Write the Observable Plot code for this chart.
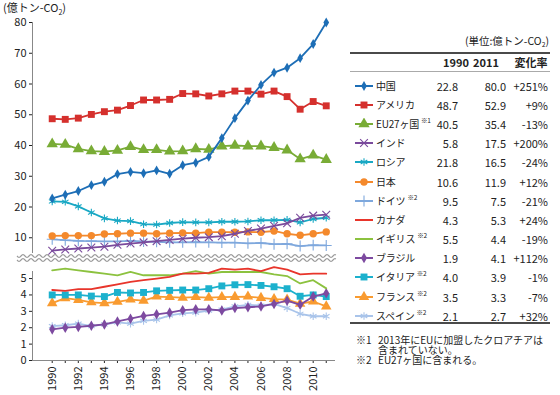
<!DOCTYPE html>
<html><head><meta charset="utf-8">
<script src="https://cdn.jsdelivr.net/npm/d3@7"></script>
<script src="https://cdn.jsdelivr.net/npm/@observablehq/plot@0.6"></script>
<style>
body{margin:0;background:#fff;}
#root{position:relative;width:560px;height:395px;overflow:hidden;font-family:"Noto Sans CJK JP","Noto Sans",sans-serif;color:#222;}
.abs{position:absolute;white-space:nowrap;line-height:16px;}
sub{font-size:0.65em;vertical-align:baseline;position:relative;top:0.35em;}
.note{font-size:6.5px;position:relative;top:-5px;margin-left:2px;}
.fnm{display:inline-block;width:22px;}
</style></head><body>
<div id="root"></div>
<script>
// ---------------- data ----------------
const years = [1990,1991,1992,1993,1994,1995,1996,1997,1998,1999,2000,2001,2002,2003,2004,2005,2006,2007,2008,2009,2010,2011];
const yearLabels = ["1990","","1992","","1994","","1996","","1998","","2000","","2002","","2004","","2006","","2008","","2010",""];
const topTicks = [10,20,30,40,50,60,70,80];
const bottomTicks = [0,1,2,3,4,5];

const china   = [22.8,24.0,25.2,27.1,28.2,30.7,31.4,31.0,31.9,30.8,33.6,34.4,36.3,42.4,48.9,54.6,59.7,63.7,65.3,68.4,73.0,80.0];
const usa     = [48.7,48.5,48.9,50.1,51.0,51.5,53.0,54.8,54.8,55.0,56.9,56.8,56.1,56.8,57.7,57.7,56.7,57.7,55.9,51.8,54.3,52.9];
const eu27    = [40.5,40.3,38.9,38.2,38.0,38.4,39.6,38.6,38.6,38.1,38.2,38.9,38.7,39.8,40.0,39.8,39.8,39.3,38.5,35.6,36.8,35.4];
const india   = [5.8,6.2,6.5,6.8,7.1,7.7,8.1,8.5,8.9,9.3,9.7,10.0,10.2,10.5,11.3,12.2,13.0,13.9,14.7,16.5,17.2,17.5];
const russia  = [21.8,21.7,20.2,18.2,16.3,15.6,15.4,14.4,14.3,14.8,15.1,15.0,15.0,15.2,15.2,15.3,15.7,15.7,15.8,15.0,16.1,16.5];
const japan   = [10.6,10.7,10.7,10.7,11.2,11.3,11.5,11.5,11.3,11.5,11.6,11.5,11.8,11.8,11.8,11.9,11.8,12.2,11.3,10.8,11.3,11.9];
const germany = [9.5,9.2,9.0,8.9,8.8,8.8,9.0,8.8,8.7,8.5,8.5,8.6,8.5,8.4,8.4,8.2,8.3,7.9,8.0,7.3,7.6,7.5];
const canada  = [4.3,4.25,4.35,4.35,4.5,4.65,4.8,4.9,5.0,5.1,5.3,5.3,5.35,5.6,5.55,5.6,5.45,5.7,5.55,5.25,5.3,5.3];
const uk      = [5.5,5.6,5.5,5.4,5.3,5.2,5.4,5.2,5.2,5.2,5.3,5.45,5.3,5.4,5.4,5.4,5.4,5.25,5.15,4.7,4.9,4.4];
const brazil  = [1.9,2.0,2.05,2.12,2.2,2.38,2.55,2.72,2.82,2.92,3.07,3.12,3.12,3.05,3.2,3.25,3.3,3.45,3.65,3.4,3.9,4.1];
const italy   = [4.0,4.0,4.0,3.93,3.9,4.15,4.12,4.15,4.25,4.28,4.3,4.3,4.38,4.55,4.62,4.63,4.58,4.5,4.38,3.92,4.0,3.9];
const france  = [3.5,3.8,3.7,3.55,3.5,3.58,3.72,3.65,3.9,3.87,3.83,3.87,3.83,3.87,3.88,3.9,3.82,3.75,3.72,3.47,3.6,3.3];
const spain   = [2.1,2.15,2.25,2.1,2.2,2.32,2.25,2.42,2.5,2.75,2.88,2.92,3.05,3.1,3.3,3.4,3.35,3.45,3.2,2.85,2.7,2.7];

const seriesNames  = ["中国","アメリカ","EU27ヶ国","インド","ロシア","日本","ドイツ","カナダ","イギリス","ブラジル","イタリア","フランス","スペイン"];
const seriesValues = [china,usa,eu27,india,russia,japan,germany,canada,uk,brazil,italy,france,spain];
const seriesNotes  = ["","","※1","","","","※2","","※2","","※2","※2","※2"];
const values1990   = ["22.8","48.7","40.5","5.8","21.8","10.6","9.5","4.3","5.5","1.9","4.0","3.5","2.1"];
const values2011   = ["80.0","52.9","35.4","17.5","16.5","11.9","7.5","5.3","4.4","4.1","3.9","3.3","2.7"];
const changes      = ["+251%","+9%","-13%","+200%","-24%","+12%","-21%","+24%","-19%","+112%","-1%","-7%","+32%"];
const topPanelNames = ["中国","アメリカ","EU27ヶ国","インド","ロシア","日本","ドイツ"];

// ---------------- styles ----------------
const seriesColors  = ["#1d6eb6","#d5302d","#79ac36","#7a4a9c","#19a8c4","#f4892c","#7fa8dd","#e8352b","#8cc23f","#7d4aa0","#1cb1cd","#f99b30","#a9c4ea"];
const seriesSymbols = ["diamond","square","triangle","times","asterisk","circle","plus",null,null,"diamond","square","triangle","asterisk"];
const markerR       = [3,3.9,4.2,3.6,3.6,3.7,3.6,0,0,3.2,3.9,3.9,3.6];
const strokeSymbols = ["times","asterisk","plus"];
const FONT = '"Noto Sans CJK JP","Noto Sans",sans-serif';
const xDomain = [1988.49, 2011.71];

function seriesMarks(i) {
  const data = years.map((year, j) => ({year, value: seriesValues[i][j]}));
  const marks = [Plot.line(data, {x: "year", y: "value", stroke: seriesColors[i], strokeWidth: 1.8})];
  const sym = seriesSymbols[i];
  if (sym) {
    const st = strokeSymbols.includes(sym);
    marks.push(Plot.dot(data, {x: "year", y: "value", symbol: sym, r: markerR[i],
      fill: st ? "none" : seriesColors[i], stroke: st ? seriesColors[i] : "none", strokeWidth: 1.1}));
  }
  return marks;
}
const idx = seriesNames.map((_, i) => i).reverse();
const topIdx = idx.filter(i => topPanelNames.includes(seriesNames[i]));
const botIdx = idx.filter(i => !topPanelNames.includes(seriesNames[i]));

const root = document.getElementById("root");
const baseStyle = {fontFamily: FONT, fontSize: "11px", color: "#222", background: "transparent", overflow: "visible"};

const topChart = Plot.plot({
  width: 340, height: 262, marginTop: 22, marginBottom: 9, marginLeft: 32, marginRight: 5,
  style: baseStyle,
  x: {domain: xDomain, axis: null},
  y: {domain: [4.88, 80], ticks: topTicks, tickSize: 3, tickPadding: 3, label: null, tickFormat: d => String(d)},
  marks: [
    Plot.ruleX([xDomain[0]], {stroke: "#888"}),
    ...topIdx.flatMap(seriesMarks)
  ]
});
topChart.style.position = "absolute"; topChart.style.left = "0px"; topChart.style.top = "0px";
root.appendChild(topChart);

const botChart = Plot.plot({
  width: 340, height: 133, marginTop: 9, marginBottom: 35, marginLeft: 32, marginRight: 5,
  style: baseStyle,
  x: {domain: xDomain, ticks: years, tickFormat: d => yearLabels[years.indexOf(d)], tickRotate: -90, tickSize: 3, tickPadding: 3, label: null},
  y: {domain: [0, 5.43], ticks: bottomTicks, tickSize: 3, tickPadding: 3, label: null, tickFormat: d => String(d)},
  marks: [
    Plot.ruleX([xDomain[0]], {stroke: "#888"}),
    Plot.ruleY([0], {stroke: "#888"}),
    ...botIdx.flatMap(seriesMarks)
  ]
});
botChart.style.position = "absolute"; botChart.style.left = "0px"; botChart.style.top = "262px";
root.appendChild(botChart);

// axis break decoration (two wavy lines)
{
  const svg = d3.select(root).append("svg").attr("width", 340).attr("height", 16)
    .style("position", "absolute").style("left", "0px").style("top", "251px");
  [5, 9].forEach(cy => {
    const pts = [];
    for (let x = 17; x <= 336; x += 1) pts.push([x, cy + 1.4 * Math.sin((x - 17) / 8 * 2 * Math.PI)]);
    svg.append("path").attr("d", d3.line()(pts)).attr("fill", "none").attr("stroke", "#9a9a9a").attr("stroke-width", 1.1);
  });
}

// title
function addText(html, style) {
  const d = document.createElement("div");
  d.className = "abs"; d.innerHTML = html;
  Object.assign(d.style, style);
  root.appendChild(d);
  return d;
}
addText("(億トン-CO<sub>2</sub>)", {left: "3px", top: "1px", fontSize: "11px", lineHeight: "12px"});

// legend table
addText("(単位:億トン-CO<sub>2</sub>)", {left: "448px", width: "101px", textAlign: "right", top: "34px", fontSize: "10.5px", lineHeight: "13px"});
addText("", {left: "350px", top: "52px", width: "200px", height: "2px", background: "#4a4a4a"});
addText("1990", {left: "431px", width: "50px", textAlign: "center", top: "55px", fontSize: "11px", fontWeight: "bold", lineHeight: "14px"});
addText("2011", {left: "461px", width: "50px", textAlign: "center", top: "55px", fontSize: "11px", fontWeight: "bold", lineHeight: "14px"});
addText("変化率", {left: "506px", width: "50px", textAlign: "center", top: "55px", fontSize: "11px", fontWeight: "bold", lineHeight: "14px"});
addText("", {left: "350px", top: "71px", width: "200px", height: "1px", background: "#aaa"});

const symMap = {circle: d3.symbolCircle, diamond: d3.symbolDiamond, square: d3.symbolSquare, triangle: d3.symbolTriangle,
  times: d3.symbolTimes || d3.symbolCross, asterisk: d3.symbolAsterisk || d3.symbolCross, plus: d3.symbolPlus || d3.symbolCross};
seriesNames.forEach((name, i) => {
  const y = 85.7 + i * 19.17;
  const svg = d3.select(root).append("svg").attr("width", 24).attr("height", 12)
    .style("position", "absolute").style("left", "352px").style("top", (y - 6) + "px");
  svg.append("line").attr("x1", 3).attr("x2", 21).attr("y1", 6).attr("y2", 6).attr("stroke", seriesColors[i]).attr("stroke-width", 2);
  const sym = seriesSymbols[i];
  if (sym) {
    const st = strokeSymbols.includes(sym);
    svg.append("path").attr("transform", "translate(12,6)")
      .attr("d", d3.symbol().type(symMap[sym]).size(Math.PI * markerR[i] * markerR[i])())
      .attr("fill", st ? "none" : seriesColors[i]).attr("stroke", st ? seriesColors[i] : "none").attr("stroke-width", 1.1);
  }
  const note = seriesNotes[i] ? `<span class="note">${seriesNotes[i]}</span>` : "";
  addText(name + note, {left: "376px", top: (y - 7) + "px", fontSize: "10px", lineHeight: "14px", letterSpacing: "-0.2px"});
  addText(values1990[i], {left: "418px", width: "40px", textAlign: "right", top: (y - 7) + "px", fontSize: "11px", lineHeight: "14px"});
  addText(values2011[i], {left: "466px", width: "40px", textAlign: "right", top: (y - 7) + "px", fontSize: "11px", lineHeight: "14px"});
  addText(changes[i], {left: "496px", width: "52px", textAlign: "right", top: (y - 7) + "px", fontSize: "11px", lineHeight: "14px"});
});
addText("", {left: "350px", top: "322px", width: "200px", height: "2px", background: "#4a4a4a"});
addText('<span class="fnm">※1</span>2013年にEUに加盟したクロアチアは<br><span class="fnm"></span>含まれていない。<br><span class="fnm">※2</span>EU27ヶ国に含まれる。',
  {left: "356px", top: "335px", fontSize: "10px", lineHeight: "10px"});
</script>
</body></html>
